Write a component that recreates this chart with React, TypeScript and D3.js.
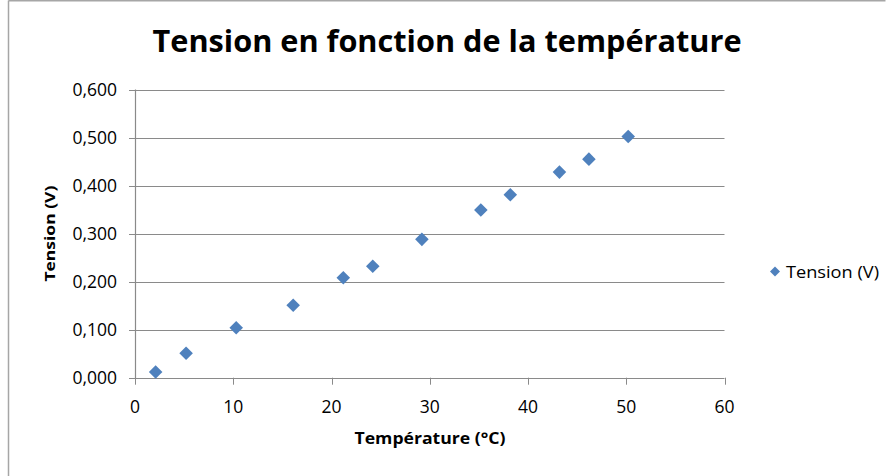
import React from "react";
import * as d3 from "d3";

const temperatures = [2.1, 5.2, 10.3, 16.1, 21.2, 24.2, 29.2, 35.2, 38.2, 43.2, 46.2, 50.2];
const tensions = [0.012, 0.051, 0.104, 0.151, 0.208, 0.232, 0.288, 0.349, 0.381, 0.428, 0.455, 0.502];
const xTicks = [0, 10, 20, 30, 40, 50, 60];
const yTicks = [0, 0.1, 0.2, 0.3, 0.4, 0.5, 0.6];
const title = "Tension en fonction de la température";
const xTitle = "Température (°C)";
const yTitle = "Tension (V)";
const seriesName = "Tension (V)";

const W = 894;
const H = 476;
const FONT = "'Open Sans', 'Noto Sans', sans-serif";
const BLUE = "#4F81BD";
const GRID = "#8a8a8a";

export default function App() {
  const x = d3.scaleLinear().domain([0, 60]).range([135, 724.5]);
  const y = d3.scaleLinear().domain([0, 0.6]).range([377.7, 89.5]);
  const diamond = d3.symbol(d3.symbolSquare, 92)() || "";
  const fmt = (v: number) => v.toFixed(3).replace(".", ",");

  return (
    <svg
      width={W}
      height={H}
      style={{ position: "absolute", left: 0, top: 0, background: "#fff" }}
    >
      <rect x={0} y={0} width={W} height={H} fill="#fff" />
      {/* chart frame */}
      <line x1={8.5} y1={0.5} x2={8.5} y2={H} stroke="#a6a6a6" strokeWidth={1.5} />
      <line x1={8.5} y1={0.75} x2={885.5} y2={0.75} stroke="#a6a6a6" strokeWidth={1.5} />

      {/* title */}
      <text
        x={447}
        y={52}
        textAnchor="middle"
        fontFamily={FONT}
        fontWeight="bold"
        fontSize={31}
        fill="#000"
        textLength={589}
        lengthAdjust="spacingAndGlyphs"
      >
        {title}
      </text>

      {/* gridlines & y ticks */}
      {yTicks.map((t) => (
        <g key={t}>
          <line x1={x(0)} x2={x(60)} y1={Math.round(y(t)) + 0.5} y2={Math.round(y(t)) + 0.5} stroke={GRID} strokeWidth={1} />
          <line x1={x(0) - 6} x2={x(0)} y1={Math.round(y(t)) + 0.5} y2={Math.round(y(t)) + 0.5} stroke={GRID} strokeWidth={1} />
          <text
            x={117}
            y={y(t) + 6}
            textAnchor="end"
            fontFamily={FONT}
            fontSize={17.5}
            fill="#000"
          >
            {fmt(t)}
          </text>
        </g>
      ))}

      {/* y axis line */}
      <line x1={x(0) + 0.5} x2={x(0) + 0.5} y1={y(0.6)} y2={y(0) + 1} stroke={GRID} strokeWidth={1.2} />

      {/* x ticks */}
      {xTicks.map((t) => (
        <g key={t}>
          <line x1={Math.round(x(t)) + 0.5} x2={Math.round(x(t)) + 0.5} y1={y(0)} y2={y(0) + 7} stroke={GRID} strokeWidth={1} />
          <text
            x={x(t)}
            y={413}
            textAnchor="middle"
            fontFamily={FONT}
            fontSize={17.5}
            fill="#000"
          >
            {t}
          </text>
        </g>
      ))}

      {/* axis titles */}
      <text
        x={430}
        y={444}
        textAnchor="middle"
        fontFamily={FONT}
        fontWeight="bold"
        fontSize={15.5}
        fill="#000"
        textLength={151}
        lengthAdjust="spacingAndGlyphs"
      >
        {xTitle}
      </text>
      <text
        transform={`translate(55,${(y(0) + y(0.6)) / 2}) rotate(-90)`}
        textAnchor="middle"
        fontFamily={FONT}
        fontWeight="bold"
        fontSize={15}
        fill="#000"
        textLength={96}
        lengthAdjust="spacingAndGlyphs"
      >
        {yTitle}
      </text>

      {/* points */}
      {temperatures.map((t, i) => (
        <path
          key={i}
          d={diamond}
          transform={`translate(${x(t)},${y(tensions[i])}) rotate(45)`}
          fill={BLUE}
        />
      ))}

      {/* legend */}
      <path d={d3.symbol(d3.symbolSquare, 50)() || ""} transform="translate(775,271.5) rotate(45)" fill={BLUE} />
      <text x={786} y={277.5} fontFamily={FONT} fontSize={16.5} fill="#000" textLength={93} lengthAdjust="spacingAndGlyphs">
        {seriesName}
      </text>
    </svg>
  );
}
